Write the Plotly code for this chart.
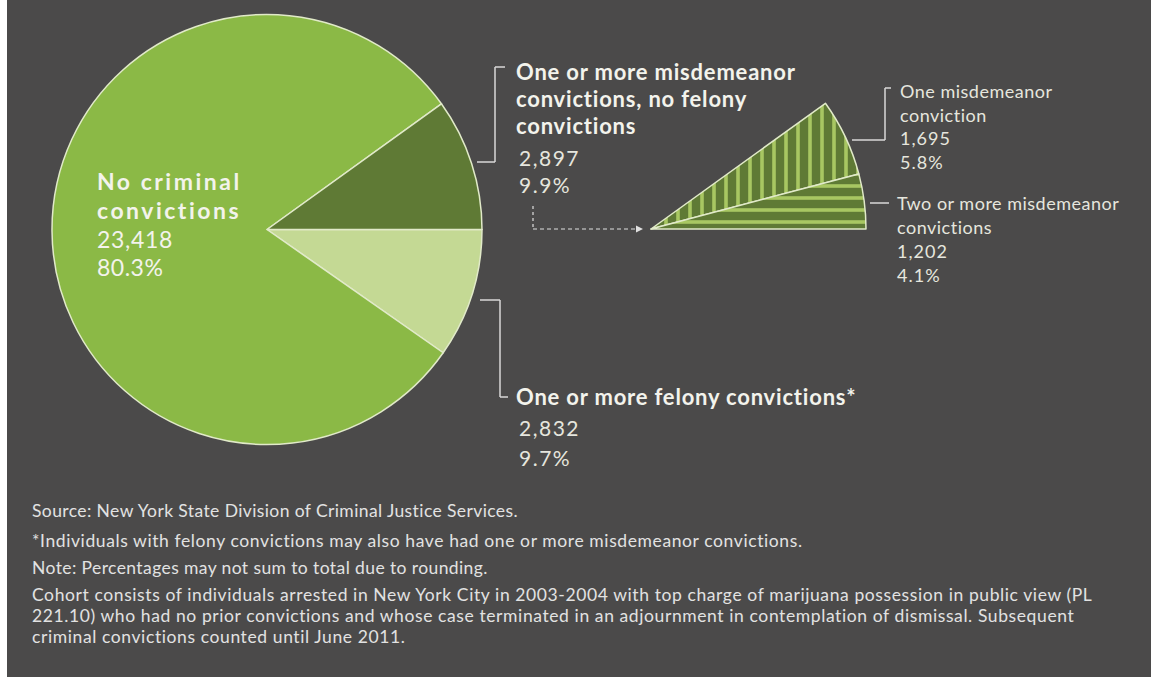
import plotly.graph_objects as go

W, H = 1151, 677

# ---- data ----
main_labels = ["One or more felony convictions*",
               "No criminal convictions",
               "One or more misdemeanor convictions, no felony convictions"]
main_values = [2832, 23418, 2897]
main_pcts = ["9.7%", "80.3%", "9.9%"]

sub_labels = ["One misdemeanor conviction", "Two or more misdemeanor convictions"]
sub_values = [1695, 1202]
sub_pcts = ["5.8%", "4.1%"]

footnotes = [
    "Source: New York State Division of Criminal Justice Services.",
    "*Individuals with felony convictions may also have had one or more misdemeanor convictions.",
    "Note: Percentages may not sum to total due to rounding.",
    "Cohort consists of individuals arrested in New York City in 2003-2004 with top charge of marijuana possession in public view (PL",
    "221.10) who had no prior convictions and whose case terminated in an adjournment in contemplation of dismissal. Subsequent",
    "criminal convictions counted until June 2011.",
]

# ---- style ----
BG = "#4b4a4a"
C_MAIN = "#8bb946"
C_DARK = "#5f7a35"
C_LIGHT = "#c4d994"
C_EDGE = "#e1eac9"
C_STRIPE = "#a8c762"
TXT_H = "#f3f3ec"
TXT_N = "#e6e6de"
FONT = "Lato"


def px(x):
    return x / W


def py(y):
    return 1 - y / H


def dom(cx, cy, r):
    return dict(x=[px(cx - r), px(cx + r)], y=[py(cy + r), py(cy - r)])


total = sum(main_values)

fig = go.Figure()

# main pie: clockwise from 3 o'clock -> felony, no conviction, misdemeanor
fig.add_trace(go.Pie(
    labels=main_labels, values=main_values, sort=False,
    direction="clockwise", rotation=90,
    marker=dict(colors=[C_LIGHT, C_MAIN, C_DARK], line=dict(color=C_EDGE, width=1.5)),
    textinfo="none", hoverinfo="skip", domain=dom(267, 229.5, 215),
    showlegend=False,
))

# exploded misdemeanor wedge (same scale as main pie)
rest = total - sum(sub_values)
fig.add_trace(go.Pie(
    labels=["rest"] + sub_labels, values=[rest] + sub_values, sort=False,
    direction="clockwise", rotation=90,
    marker=dict(
        colors=["rgba(0,0,0,0)", C_DARK, C_DARK],
        line=dict(color=["rgba(0,0,0,0)", C_EDGE, C_EDGE], width=[0, 1.5, 1.5]),
        pattern=dict(shape=["", "|", "-"], fgcolor=C_STRIPE, bgcolor=C_DARK,
                     size=12, solidity=0.3, fillmode="replace"),
    ),
    textinfo="none", hoverinfo="skip", domain=dom(651, 229, 215),
    showlegend=False,
))

shapes = []


def line(x0, y0, x1, y1, dash="solid", color="#d9d9d9", width=1.5):
    shapes.append(dict(type="line", xref="paper", yref="paper",
                       x0=px(x0), y0=py(y0), x1=px(x1), y1=py(y1),
                       line=dict(color=color, width=width, dash=dash)))


# left white strip
shapes.append(dict(type="rect", xref="paper", yref="paper", x0=0, x1=px(7), y0=0, y1=1,
                   fillcolor="#ffffff", line=dict(width=0), layer="above"))

# misdemeanor bracket
line(477, 162, 495, 162)
line(495, 162, 495, 67)
line(495, 67, 505, 67)
# felony bracket
line(480, 300, 500, 300)
line(500, 300, 500, 397)
line(500, 397, 508, 397)
# one misdemeanor bracket
line(852, 140, 885, 140)
line(885, 140, 885, 88)
line(885, 88, 891, 88)
# two or more tick
line(870, 203, 889, 203)
# dashed arrow
line(533, 206, 533, 229, dash="3px,3px", color="#e0e0e0", width=1.2)
line(533, 229, 636, 229, dash="4px,3px", color="#e0e0e0", width=1.2)
shapes.append(dict(type="path", xref="paper", yref="paper",
                   path=f"M {px(636)} {py(225.5)} L {px(643)} {py(229)} L {px(636)} {py(232.5)} Z",
                   fillcolor="#e0e0e0", line=dict(width=0)))

annotations = []


def block(lines, x, y_first, spacing, color):
    """lines: list of (text, size, bold, letter_spacing); one annotation, uniform spacing."""
    base = spacing / 1.3
    parts = []
    for t, sz, b, ls in lines:
        s = f'<span style="font-size:{sz}px;letter-spacing:{ls}px">{t}</span>'
        parts.append(f"<b>{s}</b>" if b else s)
    yc = y_first + (len(lines) - 1) * spacing / 2
    annotations.append(dict(
        text="<br>".join(parts), x=px(x), y=py(yc), xref="paper", yref="paper",
        xanchor="left", yanchor="middle", align="left", showarrow=False,
        font=dict(family=FONT, size=base, color=color)))


def fmt(v):
    return f"{v:,}"


# No criminal convictions
block([("No criminal", 23, True, 2.5), ("convictions", 23, True, 2.5),
       (fmt(main_values[1]), 23, False, 0.7), (main_pcts[1], 23, False, 0.5)],
      95, 181, 28.8, TXT_H)

# misdemeanor
block([("One or more misdemeanor", 22, True, 0.8), ("convictions, no felony", 22, True, 0.8),
       ("convictions", 22, True, 0.8)], 514, 71, 27, TXT_H)
block([(fmt(main_values[2]), 21, False, 1.5), (main_pcts[2], 21, False, 1.5)], 517, 157.5, 26.5, TXT_N)

# felony
block([("One or more felony convictions*", 22, True, 0.8)], 514, 396.5, 27, TXT_H)
block([(fmt(main_values[0]), 21, False, 1.5), (main_pcts[0], 21, False, 1.5)], 517, 428, 29.5, TXT_N)

# one misdemeanor
block([("One misdemeanor", 18, False, 0.5), ("conviction", 18, False, 0.5),
       (fmt(sub_values[0]), 18, False, 1), (sub_pcts[0], 18, False, 1)],
      898, 91, 23.7, TXT_N)
# two or more
block([("Two or more misdemeanor", 18, False, 0.5), ("convictions", 18, False, 0.5),
       (fmt(sub_values[1]), 18, False, 1), (sub_pcts[1], 18, False, 1)],
      895, 202.7, 23.9, TXT_N)

# footnotes
for s, yy, ls in zip(footnotes[:3], [511, 540, 567], [0.4, 0.6, 0.4]):
    block([(s, 17.5, False, ls)], 30, yy, 26, "#e2e2e2")
block([(s, 17.5, False, 0.6) for s in footnotes[3:]], 30, 594, 21, "#e2e2e2")

fig.update_layout(
    width=W, height=H, paper_bgcolor=BG, plot_bgcolor=BG,
    margin=dict(l=0, r=0, t=0, b=0, pad=0),
    shapes=shapes, annotations=annotations, showlegend=False,
)

fig.write_html("out.html", config={"displayModeBar": False},
               post_script="document.body.style.margin='0';document.body.style.overflow='hidden';")
